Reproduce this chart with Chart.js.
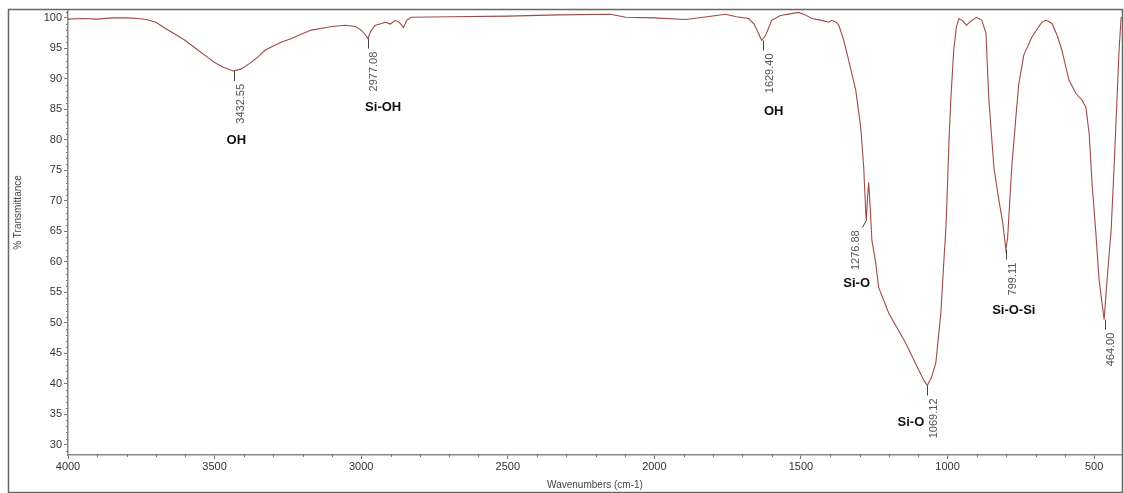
<!DOCTYPE html>
<html>
<head>
<meta charset="utf-8">
<script src="https://cdn.jsdelivr.net/npm/chart.js@4/dist/chart.umd.min.js"></script>
<style>
  html, body { margin: 0; padding: 0; background: #fff; }
  canvas { display: block; }
</style>
</head>
<body>
<canvas id="irChart" width="1124" height="493"></canvas>
<script>
// FTIR spectrum
const waveNumbers = [
  4000, 3950, 3900, 3850, 3800, 3760, 3730, 3700, 3669, 3640, 3600, 3556, 3520, 3500, 3470, 3437,
  3410, 3375, 3350, 3328, 3300, 3273, 3240, 3215, 3170, 3100, 3054, 3020, 3000, 2985, 2977, 2968,
  2952, 2930, 2918, 2900, 2884, 2870, 2856, 2845, 2830, 2700, 2500, 2327, 2150, 2098, 2000, 1893,
  1820, 1757, 1720, 1678, 1660, 1645, 1634, 1620, 1600, 1570, 1532, 1508, 1485, 1463, 1430, 1405,
  1395, 1380, 1371, 1355, 1337, 1313, 1296, 1286, 1279, 1277, 1273, 1269, 1264, 1258, 1245, 1235,
  1200, 1142, 1098, 1080, 1069, 1055, 1040, 1023, 1013, 1006, 1002, 995, 989, 979, 970, 961,
  950, 935, 920, 901, 883, 869, 859, 842, 825, 812, 801, 795, 781, 767, 757, 740,
  713, 690, 678, 665, 655, 644, 625, 610, 586, 562, 541, 528, 517, 507, 494, 483,
  466, 456, 442, 432, 415, 408, 405
];
const transmittance = [
  99.8, 99.9, 99.8, 100.0, 100.0, 99.9, 99.7, 99.3, 98.3, 97.5, 96.3, 94.7, 93.4, 92.7, 91.9, 91.3,
  91.6, 92.7, 93.7, 94.7, 95.4, 96.0, 96.6, 97.1, 98.0, 98.6, 98.8, 98.6, 98.0, 97.2, 96.6, 97.8,
  98.8, 99.1, 99.3, 99.0, 99.6, 99.3, 98.4, 99.6, 100.1, 100.2, 100.3, 100.5, 100.6, 100.1, 100.0, 99.75,
  100.2, 100.6, 100.2, 99.9, 99.0, 97.5, 96.3, 97.2, 99.6, 100.4, 100.7, 100.9, 100.5, 99.9, 99.6, 99.3,
  99.6, 99.3, 98.8, 96.5, 93.0, 88.1, 82.0, 75.5, 68.0, 66.8, 70.5, 73.0, 69.0, 63.5, 59.8, 55.8,
  51.5, 46.6, 42.2, 40.5, 39.7, 41.0, 43.4, 51.5, 59.8, 65.2, 70.0, 80.0, 86.5, 94.7, 98.5, 99.9,
  99.6, 98.8, 99.5, 100.1, 99.6, 97.5, 86.5, 75.5, 70.1, 66.5, 62.0, 64.0, 75.5, 83.7, 89.2, 93.9,
  96.8, 98.5, 99.3, 99.6, 99.4, 99.1, 97.0, 94.7, 89.8, 87.6, 86.5, 85.3, 81.0, 72.8, 64.6, 57.0,
  50.5, 57.0, 65.2, 75.5, 94.7, 100.0, 100.0
];

const xTicks = [4000, 3500, 3000, 2500, 2000, 1500, 1000, 500];
const yTicks = [30, 35, 40, 45, 50, 55, 60, 65, 70, 75, 80, 85, 90, 95, 100];

// picos marcados
const peakWaveNumbers = [3432.55, 2977.08, 1629.40, 1276.88, 1069.12, 799.11, 464.00];
const peakMinima = [91.3, 96.6, 96.3, 66.8, 39.7, 62.0, 50.5];

// asignaciones de grupos
const groupLabels = ['OH', 'Si-OH', 'OH', 'Si-O', 'Si-O', 'Si-O-Si'];
const groupWaveNumbers = [3426, 2925, 1593, 1310, 1125, 774];
const groupTransmittance = [79.9, 85.3, 84.7, 56.5, 33.7, 52.0];

const FONT = '"Liberation Sans", Arial, sans-serif';

// ticks menores + marco exterior
const minorTicksPlugin = {
  id: 'minorTicks',
  afterDraw(chart) {
    const { ctx, chartArea, scales } = chart;
    ctx.save();
    ctx.strokeStyle = '#777';
    ctx.lineWidth = 1;
    ctx.beginPath();
    for (let v = 29; v <= 101; v++) {
      if (v % 5 === 0) continue;
      const y = Math.round(scales.y.getPixelForValue(v)) + 0.5;
      ctx.moveTo(chartArea.left - 2, y);
      ctx.lineTo(chartArea.left, y);
    }
    for (let w = 500; w <= 4000; w += 100) {
      if (w % 500 === 0) continue;
      const x = Math.round(scales.x.getPixelForValue(w)) + 0.5;
      ctx.moveTo(x, chartArea.bottom - 1);
      ctx.lineTo(x, chartArea.bottom + 2);
    }
    ctx.stroke();

    // marco
    ctx.strokeStyle = '#666';
    ctx.lineWidth = 1.5;
    ctx.strokeRect(8.5, 9.5, chart.width - 10, chart.height - 10);

    // titulo eje Y (un poco por encima del centro, como el original)
    ctx.save();
    ctx.translate(18, (chartArea.top + chartArea.bottom) / 2 - 20);
    ctx.rotate(-Math.PI / 2);
    ctx.font = '10px ' + FONT;
    ctx.fillStyle = '#444';
    ctx.textAlign = 'center';
    ctx.textBaseline = 'middle';
    ctx.fillText('% Transmittance', 0, 0);
    ctx.restore();
    ctx.restore();
  }
};

const peakLabelsPlugin = {
  id: 'peakLabels',
  afterDatasetsDraw(chart) {
    const { ctx, scales } = chart;
    ctx.save();
    // numeros de los picos
    ctx.font = '11px ' + FONT;
    ctx.fillStyle = '#555';
    ctx.strokeStyle = '#444';
    ctx.lineWidth = 1;
    peakWaveNumbers.forEach((wn, i) => {
      const x = scales.x.getPixelForValue(wn);
      const y = scales.y.getPixelForValue(peakMinima[i]);
      const leans = wn === 1276.88;
      const x2 = leans ? x - 4 : x;
      const tickLen = leans ? 7 : 10;
      ctx.beginPath();
      ctx.moveTo(Math.round(x) + 0.5, y);
      ctx.lineTo(Math.round(x2) + 0.5, y + tickLen);
      ctx.stroke();
      ctx.save();
      ctx.translate(x2, y + tickLen + 3);
      ctx.rotate(-Math.PI / 2);
      ctx.textAlign = 'right';
      ctx.textBaseline = leans ? 'bottom' : 'top';
      ctx.fillText(wn.toFixed(2), 0, leans ? -1 : 1);
      ctx.restore();
    });

    // etiquetas de grupos funcionales
    ctx.font = 'bold 13px ' + FONT;
    ctx.fillStyle = '#111';
    ctx.textAlign = 'center';
    ctx.textBaseline = 'middle';
    groupLabels.forEach((lbl, i) => {
      const x = scales.x.getPixelForValue(groupWaveNumbers[i]);
      const y = scales.y.getPixelForValue(groupTransmittance[i]);
      ctx.fillText(lbl, x, y);
    });
    ctx.restore();
  }
};

const ctx = document.getElementById('irChart');

new Chart(ctx, {
  type: 'line',
  data: {
    datasets: [{
      label: '% Transmittance',
      data: waveNumbers.map((w, i) => ({ x: w, y: transmittance[i] })),
      borderColor: '#9e4b47',
      borderWidth: 1.1,
      pointRadius: 0,
      tension: 0,
      fill: false
    }]
  },
  options: {
    responsive: false,
    animation: false,
    layout: {
      padding: { left: 8, right: 2, top: 10, bottom: 0 }
    },
    plugins: {
      legend: { display: false },
      tooltip: { enabled: false }
    },
    scales: {
      x: {
        type: 'linear',
        reverse: true,
        min: 405,
        max: 4000,
        afterBuildTicks: scale => { scale.ticks = xTicks.map(v => ({ value: v })); },
        afterFit: scale => { scale.height = 38; },
        grid: { drawOnChartArea: false, drawTicks: true, tickLength: 4, color: '#777' },
        border: { display: true, color: '#888', width: 1.5 },
        ticks: {
          color: '#333',
          font: { family: FONT, size: 11 },
          padding: 1,
          maxRotation: 0,
          callback: v => String(v)
        },
        title: {
          display: true,
          text: 'Wavenumbers (cm-1)',
          color: '#444',
          font: { family: FONT, size: 10 },
          padding: { top: 0, bottom: 2 }
        }
      },
      y: {
        type: 'linear',
        min: 28.3,
        max: 101.3,
        afterBuildTicks: scale => { scale.ticks = yTicks.map(v => ({ value: v })); },
        afterFit: scale => { scale.width = 60; },
        grid: { drawOnChartArea: false, drawTicks: true, tickLength: 4, color: '#777' },
        border: { display: true, color: '#888', width: 1.5 },
        ticks: {
          color: '#333',
          font: { family: FONT, size: 11 },
          padding: 2,
          callback: v => String(v)
        },
        title: { display: false }
      }
    }
  },
  plugins: [minorTicksPlugin, peakLabelsPlugin]
});
</script>
</body>
</html>
